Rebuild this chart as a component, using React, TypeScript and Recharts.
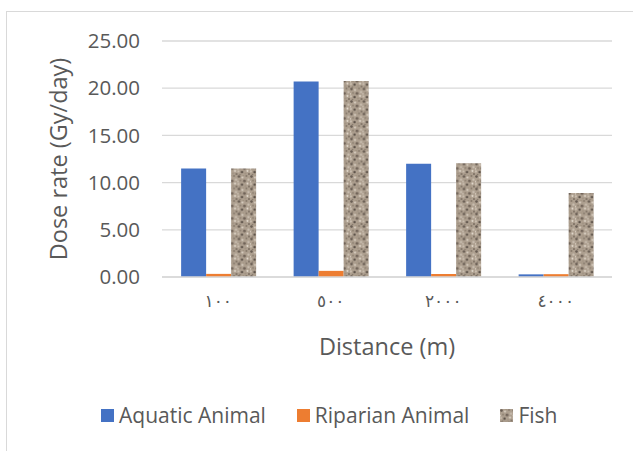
import React from 'react';
import { BarChart, Bar, XAxis, YAxis, CartesianGrid, Legend } from 'recharts';

// distances (m), written with Arabic-Indic digits as in the source
const categories = ['١٠٠', '٥٠٠', '٢٠٠٠', '٤٠٠٠'];

// dose rate values (Gy/day)
const aquaticAnimal = [11.5, 20.7, 12.0, 0.28];
const riparianAnimal = [0.33, 0.65, 0.32, 0.3];
const fish = [11.5, 20.75, 12.05, 8.9];

const yTicks = [0, 5, 10, 15, 20, 25];

const data = categories.map((name, i) => ({
  name,
  aquatic: aquaticAnimal[i],
  riparian: riparianAnimal[i],
  fish: fish[i],
}));

const TEXT = '#595959';
const GRID = '#d9d9d9';
const FONT = '"Open Sans", "Noto Sans", sans-serif';

// granite-like texture for the Fish series (hand placed spots: cx, cy, r, colour)
const graniteSpots: Array<[number, number, number, string]> = [
  [1.5, 1.5, 1.3, '#675c52'],
  [5, 2.5, 1.1, '#d9cfc2'],
  [9, 1, 1, '#847769'],
  [11, 4.5, 1.2, '#c9beb0'],
  [3, 5.5, 1, '#8f8273'],
  [7, 6, 1.4, '#716459'],
  [10, 8.5, 1, '#e6ddd1'],
  [1, 9, 1.1, '#cbbfb1'],
  [4.5, 9.5, 1.2, '#5a5047'],
  [8, 11, 1, '#a09282'],
  [2.5, 12, 0.8, '#867a6c'],
  [11.5, 11.5, 0.9, '#75695d'],
  [6, 0.3, 0.7, '#9b8d7a'],
  [0.3, 6.5, 0.7, '#e0d7ca'],
];

const GranitePattern = ({ id }: { id: string }) => (
  <pattern id={id} width="12.5" height="12.5" patternUnits="userSpaceOnUse">
    <rect width="12.5" height="12.5" fill="#ad9f8f" />
    {graniteSpots.map(([cx, cy, r, c], i) => (
      <circle key={i} cx={cx} cy={cy} r={r} fill={c} />
    ))}
  </pattern>
);

const legendItems = [
  { label: 'Aquatic Animal', fill: '#4472C4' },
  { label: 'Riparian Animal', fill: '#ED7D31' },
  { label: 'Fish', fill: 'url(#graniteLegend)' },
];

const renderLegend = () => (
  <div style={{ display: 'flex', alignItems: 'center', paddingLeft: 101, fontFamily: FONT, fontSize: 21, color: TEXT }}>
    {legendItems.map((item, i) => (
      <div key={item.label} style={{ display: 'flex', alignItems: 'center', marginRight: i < 2 ? 31 : 0 }}>
        <svg width={13} height={13} style={{ marginRight: 5 }}>
          {i === 2 && (
            <defs>
              <GranitePattern id="graniteLegend" />
            </defs>
          )}
          <rect width={13} height={13} fill={item.fill} />
        </svg>
        <span>{item.label}</span>
      </div>
    ))}
  </div>
);

export default function App() {
  return (
    <div style={{ position: 'fixed', left: 0, top: 0, width: 633, height: 451, overflow: 'hidden', background: '#fff' }}>
      <div style={{ position: 'absolute', left: 6, top: 11, width: 700, height: 500, border: `1.5px solid ${GRID}` }} />
      <BarChart
        width={633}
        height={451}
        data={data}
        margin={{ top: 41, right: 21, left: 0, bottom: 84 }}
        barCategoryGap="17%"
        barGap={0}
      >
        <defs>
          <GranitePattern id="granite" />
        </defs>
        <CartesianGrid vertical={false} stroke={GRID} strokeWidth={1.3} />
        <XAxis
          dataKey="name"
          height={90}
          axisLine={{ stroke: GRID, strokeWidth: 1.3 }}
          tickLine={false}
          tickSize={0}
          tickMargin={18}
          tick={{ fontSize: 17, fill: TEXT, fontFamily: '"DejaVu Sans", sans-serif', letterSpacing: 3 }}
          label={{
            content: ({ viewBox }: any) => (
              <text
                x={viewBox.x + viewBox.width / 2}
                y={viewBox.y + 78}
                textAnchor="middle"
                fontSize={23.5}
                fontFamily={FONT}
                fill={TEXT}
              >
                Distance (m)
              </text>
            ),
          }}
        />
        <YAxis
          width={162}
          domain={[0, 25]}
          ticks={yTicks}
          axisLine={false}
          tickLine={false}
          tickSize={0}
          tickMargin={22}
          tickFormatter={(v: number) => v.toFixed(2)}
          tick={{ fontSize: 20.5, fill: TEXT, fontFamily: FONT }}
          label={{
            content: ({ viewBox }: any) => {
              const x = 67;
              const y = viewBox.y + viewBox.height / 2;
              return (
                <text
                  x={x}
                  y={y}
                  transform={`rotate(-90, ${x}, ${y})`}
                  textAnchor="middle"
                  fontSize={23.5}
                  fontFamily={FONT}
                  fill={TEXT}
                >
                  Dose rate (Gy/day)
                </text>
              );
            },
          }}
        />
        <Legend
          verticalAlign="middle"
          align="center"
          content={renderLegend}
          wrapperStyle={{ top: 401, left: 0, width: 633, height: 28 }}
        />
        <Bar dataKey="aquatic" name="Aquatic Animal" fill="#4472C4" isAnimationActive={false} />
        <Bar dataKey="riparian" name="Riparian Animal" fill="#ED7D31" isAnimationActive={false} />
        <Bar dataKey="fish" name="Fish" fill="url(#granite)" isAnimationActive={false} />
      </BarChart>
    </div>
  );
}
